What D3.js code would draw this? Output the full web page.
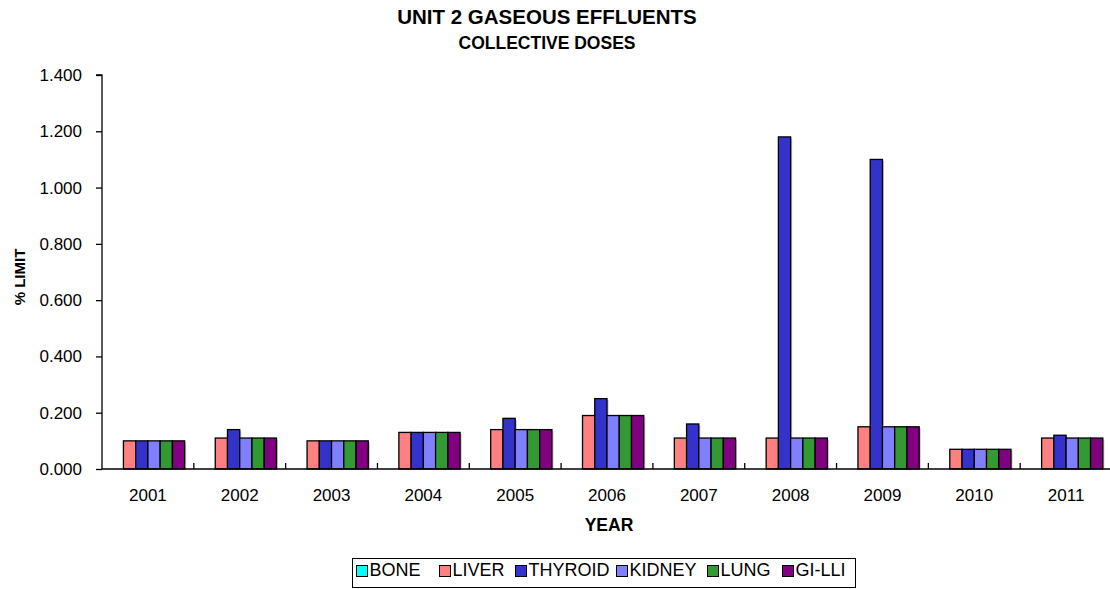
<!DOCTYPE html>
<html lang="en">
<head>
  <meta charset="UTF-8">
  <title>Unit 2 Gaseous Effluents</title>
  <style>
    body, html { margin: 0; padding: 0; background: white; }
    svg { display: block; font-family: Arial, "Liberation Sans", sans-serif; }
  </style>
</head>
<body>
  <svg id="svg" width="1110" height="589"></svg>
  <script src="https://d3js.org/d3.v7.min.js"></script>
  <script>
    const years = ['2001', '2002', '2003', '2004', '2005', '2006', '2007', '2008', '2009', '2010', '2011']
    const seriesNames = ['BONE', 'LIVER', 'THYROID', 'KIDNEY', 'LUNG', 'GI-LLI']
    const colors = ['#00FFFF', '#FF8080', '#3333CC', '#8080FF', '#339933', '#800080']

    const bone    = [0, 0, 0, 0, 0, 0, 0, 0, 0, 0, 0]
    const liver   = [0.10, 0.11, 0.10, 0.13, 0.14, 0.19, 0.11, 0.11, 0.15, 0.07, 0.11]
    const thyroid = [0.10, 0.14, 0.10, 0.13, 0.18, 0.25, 0.16, 1.18, 1.10, 0.07, 0.12]
    const kidney  = [0.10, 0.11, 0.10, 0.13, 0.14, 0.19, 0.11, 0.11, 0.15, 0.07, 0.11]
    const lung    = [0.10, 0.11, 0.10, 0.13, 0.14, 0.19, 0.11, 0.11, 0.15, 0.07, 0.11]
    const gilli   = [0.10, 0.11, 0.10, 0.13, 0.14, 0.19, 0.11, 0.11, 0.15, 0.07, 0.11]
    const yTicks = [0, 0.2, 0.4, 0.6, 0.8, 1.0, 1.2, 1.4]

    const seriesValues = [bone, liver, thyroid, kidney, lung, gilli]

    const plotLeft = 102, plotRight = 1112, plotTop = 75, plotBottom = 469
    const svg = d3.select('#svg')

    const x = d3.scaleBand()
      .domain(years)
      .range([plotLeft, plotRight])

    // 150% gap width, like the spreadsheet default
    const barW = x.bandwidth() / (seriesNames.length + 1.5)
    const xInner = d3.scaleBand()
      .domain(seriesNames)
      .range([barW * 0.75, barW * 0.75 + barW * seriesNames.length])

    const y = d3.scaleLinear()
      .domain([0, 1.4])
      .range([plotBottom, plotTop])

    // titles
    svg.append('text')
      .attr('x', 547).attr('y', 24)
      .attr('text-anchor', 'middle')
      .style('font-weight', 'bold').style('font-size', '20.5px')
      .text('UNIT 2 GASEOUS EFFLUENTS')
    svg.append('text')
      .attr('x', 547).attr('y', 49)
      .attr('text-anchor', 'middle')
      .style('font-weight', 'bold').style('font-size', '17.5px')
      .text('COLLECTIVE DOSES')

    // bars
    const groups = svg.append('g')
      .selectAll('g')
      .data(years)
      .enter()
      .append('g')
      .attr('transform', d => `translate(${x(d)},0)`)

    const rowData = (d, i) => seriesNames.map((s, j) => ({ s, j, v: seriesValues[j][i] })).filter(e => e.v > 0)

    groups.selectAll('rect.shadow')
      .data(rowData)
      .enter()
      .append('rect')
      .attr('class', 'shadow')
      .attr('x', d => xInner(d.s) + 1.5)
      .attr('y', d => y(d.v) + 1.5)
      .attr('width', xInner.bandwidth())
      .attr('height', d => plotBottom - y(d.v) - 1.5)
      .attr('fill', '#999')
      .attr('opacity', 0.6)

    groups.selectAll('rect.bar')
      .data(rowData)
      .enter()
      .append('rect')
      .attr('class', 'bar')
      .attr('x', d => xInner(d.s))
      .attr('y', d => y(d.v))
      .attr('width', xInner.bandwidth())
      .attr('height', d => plotBottom - y(d.v))
      .attr('fill', d => colors[d.j])
      .attr('stroke', '#000')
      .attr('stroke-width', 1.3)

    // y axis
    const yAxis = svg.append('g')
      .attr('transform', `translate(${plotLeft},0)`)
      .call(d3.axisLeft(y).tickValues(yTicks).tickFormat(d3.format('.3f')).tickSize(6).tickPadding(14))
    yAxis.select('.domain').attr('stroke', '#000').attr('stroke-width', 1.3).attr('d', `M-6,${plotTop}H0V${plotBottom}`)
    yAxis.selectAll('.tick line').attr('stroke', '#000').attr('stroke-width', 1.3)
    yAxis.selectAll('.tick text').style('font-size', '17px').style('font-family', 'Arial, "Liberation Sans", sans-serif').attr('fill', '#000')

    // x axis
    const xAxis = svg.append('g')
      .attr('transform', `translate(0,${plotBottom})`)
      .call(d3.axisBottom(x).tickSize(0).tickPadding(20))
    xAxis.select('.domain').attr('stroke', '#000').attr('stroke-width', 1.3).attr('d', `M${plotLeft},0H${plotRight}`)
    xAxis.selectAll('.tick text').style('font-size', '17px').style('font-family', 'Arial, "Liberation Sans", sans-serif').attr('fill', '#000')
    xAxis.selectAll('.sep')
      .data(years.slice(1))
      .enter()
      .append('line')
      .attr('class', 'sep')
      .attr('x1', d => x(d)).attr('x2', d => x(d))
      .attr('y1', 0).attr('y2', -6)
      .attr('stroke', '#000').attr('stroke-width', 1.3)

    // axis titles
    svg.append('text')
      .attr('transform', `translate(25,277) rotate(-90)`)
      .attr('text-anchor', 'middle')
      .style('font-weight', 'bold').style('font-size', '15px')
      .text('% LIMIT')
    svg.append('text')
      .attr('x', 609).attr('y', 531)
      .attr('text-anchor', 'middle')
      .style('font-weight', 'bold').style('font-size', '17.5px')
      .text('YEAR')

    // legend
    const legend = svg.append('g')
    legend.append('rect')
      .attr('x', 352.5).attr('y', 558.5)
      .attr('width', 503).attr('height', 29)
      .attr('fill', 'white').attr('stroke', '#000').attr('stroke-width', 1)

    const legendX = [356, 439, 515, 616, 707, 782]
    const items = legend.selectAll('g.item')
      .data(seriesNames)
      .enter()
      .append('g')
      .attr('class', 'item')
      .attr('transform', (d, i) => `translate(${legendX[i]},565)`)
    items.append('rect')
      .attr('x', 0.5).attr('y', 0.5)
      .attr('width', 11).attr('height', 11)
      .attr('fill', (d, i) => colors[i])
      .attr('stroke', '#000').attr('stroke-width', 1)
    items.append('text')
      .attr('x', 13.5).attr('y', 11)
      .style('font-size', '18px')
      .text(d => d)
  </script>
</body>
</html>
